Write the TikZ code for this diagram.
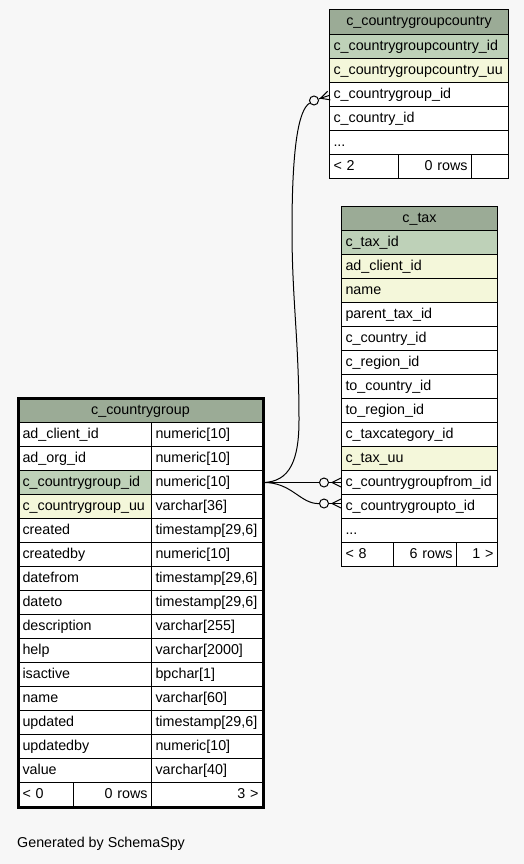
\documentclass[tikz,border=0pt]{standalone}
\usepackage{fontspec}
\setmainfont{Liberation Sans}
\usetikzlibrary{calc}
\definecolor{bg}{HTML}{F7F7F7}
\definecolor{hdrc}{HTML}{9BAB96}
\definecolor{pkcol}{HTML}{BED1B8}
\definecolor{idxcol}{HTML}{F4F7DA}
\begin{document}
\begin{tikzpicture}[x=1pt,y=-1pt,
  font=\fontsize{14.3}{17}\selectfont,
  execute at begin node={\hyphenpenalty=10000\relax},
  cell/.style={draw=black, line width=1pt, fill=white, anchor=north west,
    minimum height=24pt, inner xsep=4pt, inner ysep=0pt,
    text height=10.5pt, text depth=3pt, align=left},
  hdr/.style={cell, fill=hdrc, align=center},
  pkc/.style={cell, fill=pkcol},
  ixc/.style={cell, fill=idxcol},
  rt/.style={cell, align=right},
  w/.style={text width=#1pt},
  ring/.style={circle, draw=black, line width=1pt, fill=bg, minimum size=9pt, inner sep=0pt},
  link/.style={draw=black, line width=1pt}
]
\fill[bg] (0,0) rectangle (524,864);
\useasboundingbox (0,0) rectangle (524,864);

% ---- table c_countrygroupcountry
\node[hdr, w=171, minimum height=25pt] (ah) at (329,9) {c\_countrygroupcountry};
\node[pkc, w=171] (aid) at (329,34) {c\_countrygroupcountry\_id};
\node[ixc, w=171] (auu) at (329,58) {c\_countrygroupcountry\_uu};
\node[cell, w=171] (acg) at (329,82) {c\_countrygroup\_id};
\node[cell, w=171] (acn) at (329,106) {c\_country\_id};
\node[cell, w=171] (adots) at (329,130) {...};
\node[cell, w=61] (af1) at (329,154) {< 2};
\node[rt, w=65] (af2) at (398,154) {0 rows};
\node[rt, w=29] (af3) at (471,154) {};

% ---- table c_tax
\node[hdr, w=148] (bh) at (341,206) {c\_tax};
\node[pkc, w=148] (bid) at (341,230) {c\_tax\_id};
\node[ixc, w=148] (bcl) at (341,254) {ad\_client\_id};
\node[ixc, w=148] (bnm) at (341,278) {name};
\node[cell, w=148] (bpt) at (341,302) {parent\_tax\_id};
\node[cell, w=148] (bcn) at (341,326) {c\_country\_id};
\node[cell, w=148] (brg) at (341,350) {c\_region\_id};
\node[cell, w=148] (btc) at (341,374) {to\_country\_id};
\node[cell, w=148] (btr) at (341,398) {to\_region\_id};
\node[cell, w=148] (btx) at (341,422) {c\_taxcategory\_id};
\node[ixc, w=148] (buu) at (341,446) {c\_tax\_uu};
\node[cell, w=148] (bfrom) at (341,470) {c\_countrygroupfrom\_id};
\node[cell, w=148] (bto) at (341,494) {c\_countrygroupto\_id};
\node[cell, w=148] (bdots) at (341,518) {...};
\node[cell, w=44] (bf1) at (341,542) {< 8};
\node[rt, w=55] (bf2) at (393,542) {6 rows};
\node[rt, w=33] (bf3) at (456,542) {1 >};

% ---- table c_countrygroup
\node[hdr, w=236] (ch) at (18,398) {c\_countrygroup};
\foreach \i/\nm/\ty/\st in {
  0/ad\_client\_id/numeric[10]/cell,
  1/ad\_org\_id/numeric[10]/cell,
  2/c\_countrygroup\_id/numeric[10]/pkc,
  3/c\_countrygroup\_uu/varchar[36]/ixc,
  4/created/timestamp[29{,}6]/cell,
  5/createdby/numeric[10]/cell,
  6/datefrom/timestamp[29{,}6]/cell,
  7/dateto/timestamp[29{,}6]/cell,
  8/description/varchar[255]/cell,
  9/help/varchar[2000]/cell,
  10/isactive/bpchar[1]/cell,
  11/name/varchar[60]/cell,
  12/updated/timestamp[29{,}6]/cell,
  13/updatedby/numeric[10]/cell,
  14/value/varchar[40]/cell} {
  \node[\st, w=125] (cn\i) at (18,422+24*\i) {\nm};
  \node[cell, w=103] (ct\i) at (151,422+24*\i) {\ty};
}
\node[cell, w=47] (cf1) at (18,782) {< 0};
\node[rt, w=70] (cf2) at (73,782) {0 rows};
\node[rt, w=103] (cf3) at (151,782) {3 >};
\draw[line width=3pt] (ch.north west) rectangle (cf3.south east);

% ---- connectors
% c_countrygroup -> c_countrygroupcountry
\coordinate (p1) at ($(acg.west)+(0,1)$);
\node[ring] (o1) at ($(p1)+(-15,5)$) {};
\draw[link] (ct2.east) .. controls (290,482) and (299,460) .. (299,420)
  .. controls (299,340) and (292,300) .. (292,230)
  .. controls (292,150) and (298,110) .. (o1);
\draw[link] (o1) -- (p1);
\draw[link] ($(p1)+(-8.5,2.8)$) -- ($(p1)+(-1.4,-4.3)$);
\draw[link] ($(p1)+(-8.5,2.8)$) -- ($(p1)+(1.4,4.3)$);

% c_countrygroup -> c_tax (from)
\coordinate (p2) at (bfrom.west);
\node[ring] (o2) at ($(p2)+(-17,0)$) {};
\draw[link] (ct2.east) -- (o2);
\draw[link] (o2) -- (p2);
\draw[link] ($(p2)+(-9,0)$) -- ($(p2)+(0,-4.5)$);
\draw[link] ($(p2)+(-9,0)$) -- ($(p2)+(0,4.5)$);

% c_countrygroup -> c_tax (to)
\coordinate (p3) at ($(bto.west)+(0,-3)$);
\node[ring] (o3) at ($(p3)+(-17,0)$) {};
\draw[link] (ct2.east) .. controls (292,482) and (300,504) .. (o3);
\draw[link] (o3) -- (p3);
\draw[link] ($(p3)+(-9,0)$) -- ($(p3)+(0,-4.5)$);
\draw[link] ($(p3)+(-9,0)$) -- ($(p3)+(0,4.5)$);

\node[anchor=west, inner sep=0pt] (gen) at (17,844) {Generated by SchemaSpy};
\end{tikzpicture}
\end{document}
